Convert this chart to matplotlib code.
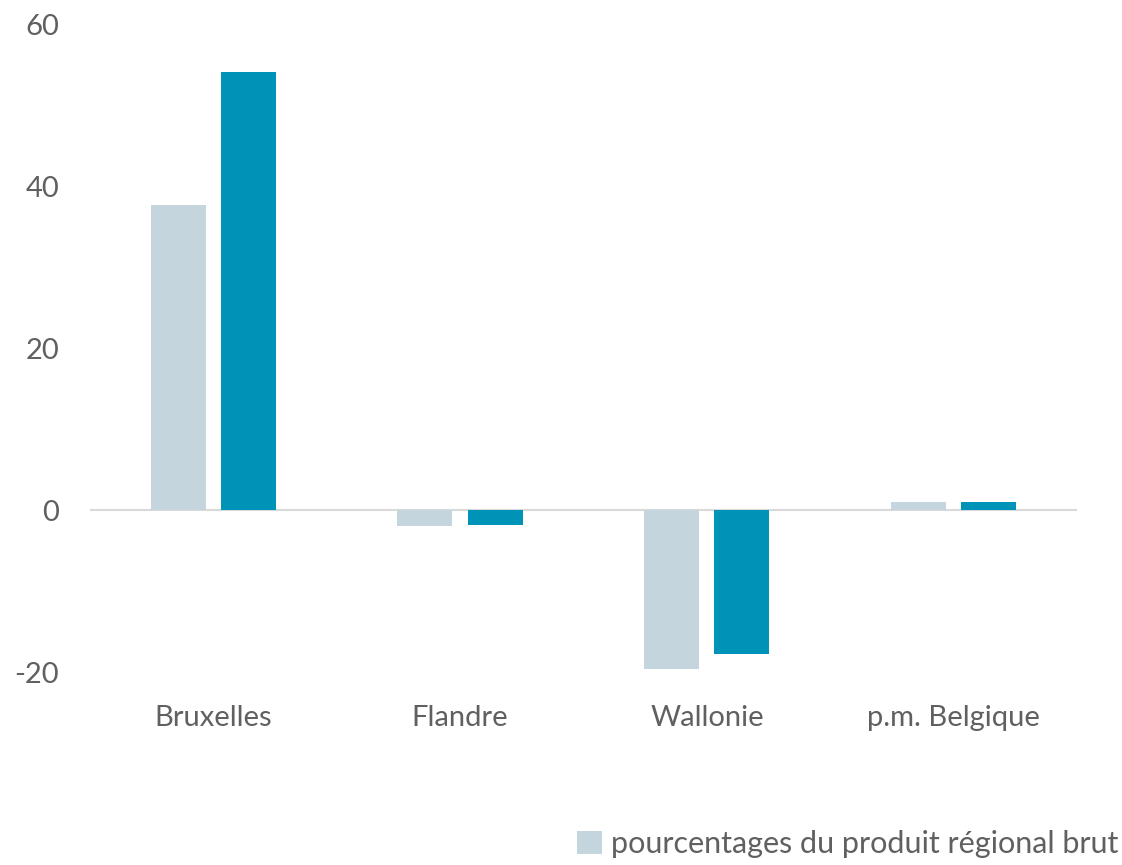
import numpy as np
import matplotlib
matplotlib.use("Agg")
import matplotlib.pyplot as plt

regions = ["Bruxelles", "Flandre", "Wallonie", "p.m. Belgique"]
series_light = [37.7, -2.0, -19.6, 0.95]
series_dark = [54.1, -1.8, -17.8, 1.0]
legend_label = "pourcentages du produit régional brut"
yticks = [-20, 0, 20, 40, 60]

plt.rcParams['font.family'] = ['Lato', 'DejaVu Sans']
text_col = '#606060'
light = '#c5d5dd'
dark = '#0093b8'

fig = plt.figure(figsize=(11.22, 8.65), dpi=100)
ax = fig.add_axes([0.080, 0.223, 0.880, 0.749])

x = np.arange(len(regions))
w = 0.223
off = 0.142
b1 = ax.bar(x - off, series_light, w, color=light, label=legend_label, zorder=2)
ax.bar(x + off, series_dark, w, color=dark, zorder=2)

ax.axhline(0, color='#d9d9d9', lw=1.5, zorder=1)
ax.set_xlim(-0.5, 3.5)
ax.set_ylim(-20, 60)
ax.set_yticks(yticks)
ax.set_yticklabels([str(v) for v in yticks])
ax.set_xticks(x)
ax.set_xticklabels(regions)
for s in ax.spines.values():
    s.set_visible(False)
ax.tick_params(axis='both', length=0, labelsize=21, colors=text_col)
ax.tick_params(axis='y', pad=22)
ax.tick_params(axis='x', pad=24)

fig.legend(handles=[b1], labels=[legend_label], loc='lower right',
           bbox_to_anchor=(1.021, -0.024), frameon=False, fontsize=22,
           labelcolor=text_col, handlelength=0.8, handleheight=0.8,
           handletextpad=0.3)

fig.savefig('out.png', dpi=100)
